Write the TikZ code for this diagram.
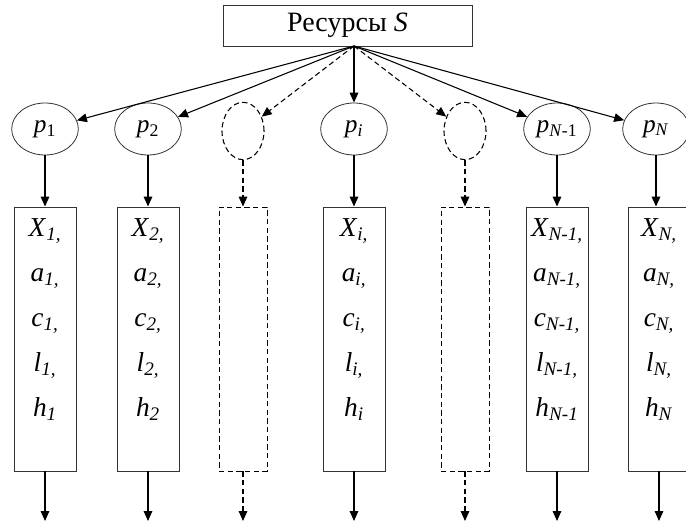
\documentclass[tikz,border=0pt]{standalone}
\usepackage{fontspec}
\setmainfont{Liberation Serif}
\usetikzlibrary{arrows.meta,positioning,shapes.geometric}

% italic variable with italic subscript
\newcommand{\ivar}[2]{\textit{#1}\textsubscript{\textit{#2}}}

\begin{document}
\begin{tikzpicture}[
      x=0.75pt, y=-0.75pt,
      res/.style={rectangle, draw=black!80, line width=0.7pt, inner sep=0pt,
                  minimum width=186.75pt, minimum height=30.75pt,
                  font=\fontsize{21}{24}\selectfont},
      prob/.style={ellipse, draw=black!80, line width=0.6pt, inner sep=0pt,
                   minimum width=50pt, minimum height=39pt,
                   font=\fontsize{19}{22}\selectfont},
      ghost/.style={dash pattern=on 4pt off 2.5pt},
      gprob/.style={ellipse, draw=black, line width=0.8pt, ghost, inner sep=0pt,
                    minimum width=31.5pt, minimum height=43pt},
      col/.style={rectangle, draw=black!80, line width=0.7pt, inner sep=0pt,
                  minimum width=46.5pt, minimum height=198pt},
      gcol/.style={col, draw=black, ghost, minimum width=36pt},
      vars/.style={anchor=north, align=center, inner sep=0pt,
                   font=\fontsize{20.5}{33.75}\selectfont},
      arr/.style={-{Triangle[length=7.5pt, width=6.5pt]}, line width=0.8pt}
    ]
    \clip (0,0) rectangle (686,524);

    \node[res] (res) at (347.5,25.5) {Ресурсы \textit{S}};
    \coordinate (src) at (354,46);

    % shares
    \node[prob] (p1) at (45,129) {\textit{p}\textsubscript{1}};
    \node[prob] (p2) at (148,129) {\textit{p}\textsubscript{2}};
    \node[gprob] (g1) at (243,131) {};
    \node[prob] (pi) at (354,129) {\textit{p}\textsubscript{\textit{i}}};
    \node[gprob] (g2) at (465,131) {};
    \node[prob] (pm) at (557,129) {\textit{p}\textsubscript{\textit{N}-1}};
    \node[prob] (pn) at (656,129) {\textit{p}\textsubscript{\textit{N}}};

    % consumers
    \node[col] (b1) at (45,339) {};
    \node[col] (b2) at (148,339) {};
    \node[gcol] (h1) at (243,339) {};
    \node[col] (bi) at (354,339) {};
    \node[gcol] (h2) at (465,339) {};
    \node[col] (bm) at (557,339) {};
    \node[col] (bn) at (659,339) {};

    \node[vars] (v1) at ([yshift=-9pt]b1.north)
      {\ivar{X}{1,}\\\ivar{a}{1,}\\\ivar{c}{1,}\\\ivar{l}{1,}\\\ivar{h}{1}};
    \node[vars] (v2) at ([yshift=-9pt]b2.north)
      {\ivar{X}{2,}\\\ivar{a}{2,}\\\ivar{c}{2,}\\\ivar{l}{2,}\\\ivar{h}{2}};
    \node[vars] (vi) at ([yshift=-9pt]bi.north)
      {\ivar{X}{i,}\\\ivar{a}{i,}\\\ivar{c}{i,}\\\ivar{l}{i,}\\\ivar{h}{i}};
    \node[vars] (vm) at ([yshift=-9pt]bm.north)
      {\ivar{X}{N-1,}\\\ivar{a}{N-1,}\\\ivar{c}{N-1,}\\\ivar{l}{N-1,}\\\ivar{h}{N-1}};
    \node[vars] (vn) at ([yshift=-9pt]bn.north)
      {\ivar{X}{N,}\\\ivar{a}{N,}\\\ivar{c}{N,}\\\ivar{l}{N,}\\\ivar{h}{N}};

    % outputs
    \coordinate (o1) at (45,521);
    \coordinate (o2) at (148,521);
    \coordinate (q1) at (243,521);
    \coordinate (oi) at (354,521);
    \coordinate (q2) at (465,521);
    \coordinate (om) at (557,521);
    \coordinate (on) at (659,521);

    \draw[arr] (src) -- (p1);
    \draw[arr] (src) -- (p2);
    \draw[arr, ghost] (src) -- (g1);
    \draw[arr] (src) -- (pi);
    \draw[arr, ghost] (src) -- (g2);
    \draw[arr] (src) -- (pm);
    \draw[arr] (src) -- (pn);

    \draw[arr] (p1) -- (b1);
    \draw[arr] (p2) -- (b2);
    \draw[arr, ghost] (g1) -- (h1);
    \draw[arr] (pi) -- (bi);
    \draw[arr, ghost] (g2) -- (h2);
    \draw[arr] (pm) -- (bm);
    \draw[arr] (pn.south) -- (pn.south |- bn.north);

    \draw[arr] (b1) -- (o1);
    \draw[arr] (b2) -- (o2);
    \draw[arr, ghost] (h1) -- (q1);
    \draw[arr] (bi) -- (oi);
    \draw[arr, ghost] (h2) -- (q2);
    \draw[arr] (bm) -- (om);
    \draw[arr] (bn.south -| on) -- (on);
  \end{tikzpicture}
\end{document}
